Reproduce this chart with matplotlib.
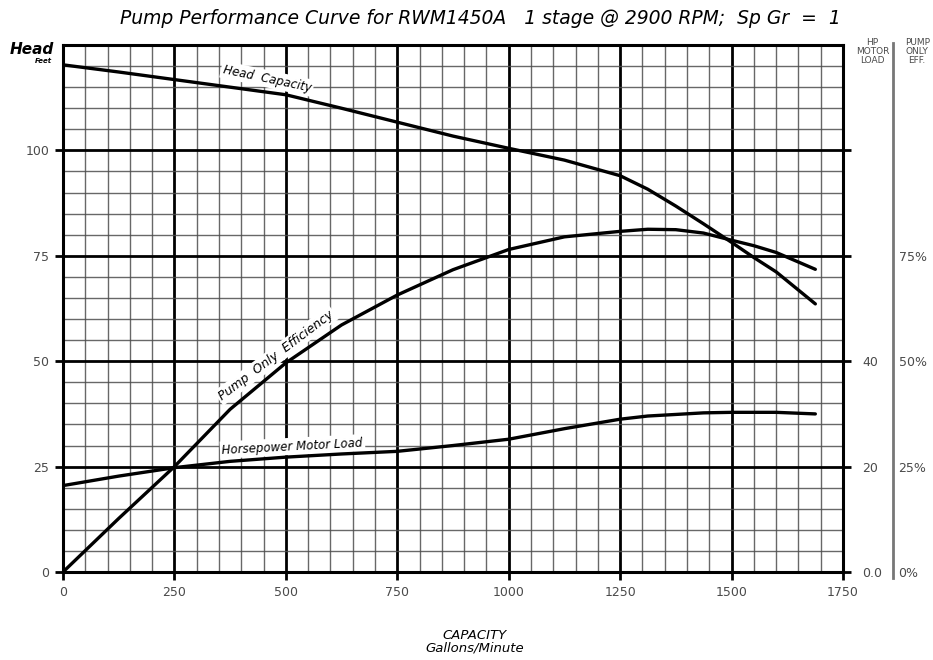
import numpy as np
import matplotlib.pyplot as plt
from matplotlib.lines import Line2D
from matplotlib.ticker import MultipleLocator

# capacity in gallons/minute
gpm = [0, 125, 250, 375, 500, 625, 750, 875, 1000, 1125, 1250, 1312, 1375, 1437, 1500, 1550, 1600, 1688]
# head in feet
head = [120.3, 118.6, 116.8, 115.0, 113.2, 110.0, 106.7, 103.4, 100.5, 97.7, 94.0, 90.8, 86.8, 82.6, 78.2, 74.6, 71.2, 63.6]
# pump only efficiency, percent
eff = [0.0, 12.7, 25.0, 38.6, 49.6, 58.6, 65.7, 71.7, 76.5, 79.5, 80.8, 81.3, 81.2, 80.4, 78.7, 77.4, 75.8, 71.8]
# horsepower motor load
hp = [16.4, 18.2, 19.8, 21.0, 21.8, 22.4, 22.9, 24.0, 25.2, 27.2, 29.0, 29.6, 29.9, 30.2, 30.3, 30.3, 30.3, 30.0]

x_ticks = [0, 250, 500, 750, 1000, 1250, 1500, 1750]
head_ticks = [0, 25, 50, 75, 100]
hp_ticks = [0, 20, 40]
hp_tick_labels = ["0.0", "20", "40"]
eff_ticks = [0, 25, 50, 75]
eff_tick_labels = ["0%", "25%", "50%", "75%"]

title = "Pump Performance Curve for RWM1450A   1 stage @ 2900 RPM;  Sp Gr  =  1"

LABEL_GRAY = "#4a4a4a"

fig = plt.figure(figsize=(9.33, 6.6), dpi=100)
ax = fig.add_axes([0.0675, 0.1333, 0.836, 0.7985])

ax.set_xlim(0, 1750)
ax.set_ylim(0, 125)

# graph paper grid
ax.xaxis.set_major_locator(MultipleLocator(250))
ax.xaxis.set_minor_locator(MultipleLocator(50))
ax.yaxis.set_major_locator(MultipleLocator(25))
ax.yaxis.set_minor_locator(MultipleLocator(5))
ax.grid(which="minor", color="#4d4d4d", lw=1.0, alpha=0.85)
ax.grid(which="major", color="black", lw=2.0)
ax.set_axisbelow(True)
for s in ax.spines.values():
    s.set_linewidth(2.2)

ax.set_xticks(x_ticks)
ax.set_yticks(head_ticks)
ax.tick_params(which="major", length=6, width=2.0, color="black",
               labelsize=9, labelcolor=LABEL_GRAY, pad=4)
ax.tick_params(which="minor", length=0)

# right-hand scales
ax_hp = ax.twinx()
ax_hp.set_ylim(0, 100)
ax_hp.set_yticks(hp_ticks)
ax_hp.set_yticklabels(hp_tick_labels)
ax_hp.tick_params(length=0, pad=14, labelsize=9, labelcolor=LABEL_GRAY)
for s in ax_hp.spines.values():
    s.set_visible(False)

ax_eff = ax.twinx()
ax_eff.set_ylim(0, 125)
ax_eff.set_yticks(eff_ticks)
ax_eff.set_yticklabels(eff_tick_labels)
ax_eff.tick_params(length=0, pad=40, labelsize=9, labelcolor=LABEL_GRAY)
for s in ax_eff.spines.values():
    s.set_visible(False)

# ticks on the right edge of the main grid
ax.tick_params(axis="y", which="major", right=True, direction="out")

# curves
ax.plot(gpm, head, color="black", lw=2.4, solid_capstyle="round", zorder=5)
ax_eff.plot(gpm, eff, color="black", lw=2.4, solid_capstyle="round", zorder=5)
ax_hp.plot(gpm, hp, color="black", lw=2.4, solid_capstyle="round", zorder=5)

box = dict(facecolor="white", edgecolor="none", pad=1.5)
ax.text(458, 117.0, "Head  Capacity", rotation=-12, fontsize=8.5, style="italic",
        ha="center", va="center", bbox=box, zorder=6)
ax.text(478, 51.4, "Pump  Only  Efficiency", rotation=37, fontsize=9, style="italic",
        ha="center", va="center", bbox=box, zorder=6)
ax.text(515, 29.8, "Horsepower Motor Load", rotation=3, fontsize=8.5, style="italic",
        ha="center", va="center", bbox=box, zorder=6)

# titles and headers
fig.text(0.515, 0.972, title, ha="center", va="center", fontsize=13.5, style="italic")
fig.text(0.034, 0.925, "Head", ha="center", va="center", fontsize=11,
         style="italic", weight="bold")
fig.text(0.047, 0.907, "Feet", ha="center", va="center", fontsize=5,
         style="italic", weight="bold")
fig.text(0.935, 0.942, "HP\nMOTOR\nLOAD", ha="center", va="top", fontsize=6.5,
         color=LABEL_GRAY, linespacing=0.95)
fig.text(0.983, 0.942, "PUMP\nONLY\nEFF.", ha="center", va="top", fontsize=6.5,
         color=LABEL_GRAY, linespacing=0.95)
fig.add_artist(Line2D([0.957, 0.957], [0.125, 0.935], transform=fig.transFigure,
                      color="#777777", lw=2.0))

fig.text(0.509, 0.028, "CAPACITY\nGallons/Minute", ha="center", va="center",
         fontsize=9.5, style="italic", linespacing=1.0)

fig.savefig("out.png", dpi=100)
